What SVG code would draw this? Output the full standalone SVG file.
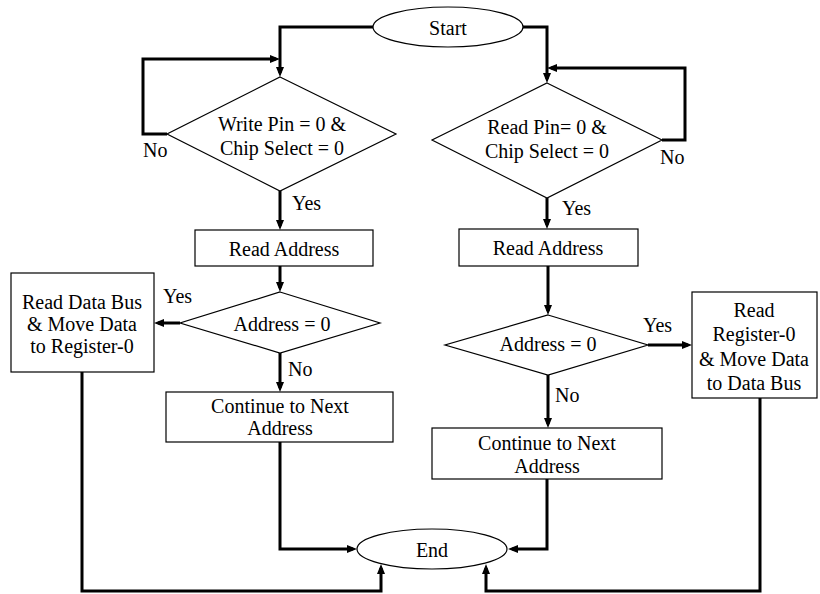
<svg xmlns="http://www.w3.org/2000/svg" width="820" height="594" viewBox="0 0 820 594" font-family="'Liberation Serif', 'Times New Roman', 'DejaVu Serif', serif">
<style>
.s{fill:#fff;stroke:#000;stroke-width:1.2}
.c{fill:none;stroke:#000;stroke-width:3;marker-end:url(#ah)}
text{font-family:'Liberation Serif','Times New Roman','DejaVu Serif',serif;font-size:20px;fill:#000}
.m{text-anchor:middle}
</style>
<defs>
<marker id="ah" markerUnits="userSpaceOnUse" markerWidth="10" markerHeight="8" refX="6" refY="4" orient="auto">
<path d="M0,0 L10,4 L0,8 z" fill="#000"/>
</marker>
</defs>
<rect width="820" height="594" fill="#fff"/>
<g id="connectors">
<path class="c" d="M373,27 H280 V73"/>
<path class="c" d="M523,27 H547 V79"/>
<path class="c" d="M167,134 H143 V59 H276"/>
<path class="c" d="M662,140 H685 V68 H551"/>
<path class="c" d="M280,191 V226"/>
<path class="c" d="M547,198 V225"/>
<path class="c" d="M280,266 V288"/>
<path class="c" d="M548,266 V311"/>
<path class="c" d="M180,323 H158"/>
<path class="c" d="M280,353 V388"/>
<path class="c" d="M648,345 H688"/>
<path class="c" d="M548,375 V424"/>
<path class="c" d="M82,372 V591 H381 V568"/>
<path class="c" d="M280,442 V549 H353"/>
<path class="c" d="M547,479 V549 H512"/>
<path class="c" d="M760,398 V591 H486 V568"/>
<text x="143" y="157">No</text>
<text x="660" y="164">No</text>
<text x="292" y="210">Yes</text>
<text x="562" y="215">Yes</text>
<text x="163" y="303">Yes</text>
<text x="288" y="376">No</text>
<text x="643" y="332">Yes</text>
<text x="555" y="402">No</text>
</g>
<g id="start">
<ellipse class="s" cx="448" cy="27" rx="75" ry="20"/>
<text class="m" x="448" y="35">Start</text>
</g>
<g id="d1">
<polygon class="s" points="280,77 396,134 280,191 167,134"/>
<text class="m" x="282" y="131">Write Pin = 0 &amp;</text>
<text class="m" x="282" y="155">Chip Select = 0</text>
</g>
<g id="d2">
<polygon class="s" points="547,83 662,140 547,198 432,140"/>
<text class="m" x="547" y="134">Read Pin= 0 &amp;</text>
<text class="m" x="547" y="158">Chip Select = 0</text>
</g>
<g id="ra1">
<rect class="s" x="195" y="230" width="178" height="36"/>
<text class="m" x="284" y="256">Read Address</text>
</g>
<g id="ra2">
<rect class="s" x="459" y="229" width="179" height="37"/>
<text class="m" x="548" y="255">Read Address</text>
</g>
<g id="d3">
<polygon class="s" points="280,292 380,323 280,353 180,323"/>
<text class="m" x="282" y="331">Address = 0</text>
</g>
<g id="d4">
<polygon class="s" points="548,315 648,345 548,375 445,345"/>
<text class="m" x="548" y="351">Address = 0</text>
</g>
<g id="wbox">
<rect class="s" x="11" y="273" width="143" height="99"/>
<text class="m" x="82" y="309">Read Data Bus</text>
<text class="m" x="82" y="331">&amp; Move Data</text>
<text class="m" x="82" y="353">to Register-0</text>
</g>
<g id="rbox">
<rect class="s" x="692" y="292" width="125" height="106"/>
<text class="m" x="754" y="317">Read</text>
<text class="m" x="754" y="341">Register-0</text>
<text class="m" x="754" y="366">&amp; Move Data</text>
<text class="m" x="754" y="390">to Data Bus</text>
</g>
<g id="cont1">
<rect class="s" x="166" y="392" width="227" height="50"/>
<text class="m" x="280" y="413">Continue to Next</text>
<text class="m" x="280" y="435">Address</text>
</g>
<g id="cont2">
<rect class="s" x="432" y="428" width="230" height="51"/>
<text class="m" x="547" y="450">Continue to Next</text>
<text class="m" x="547" y="473">Address</text>
</g>
<g id="end">
<ellipse class="s" cx="432" cy="549" rx="75" ry="20"/>
<text class="m" x="432" y="557">End</text>
</g>
</svg>
